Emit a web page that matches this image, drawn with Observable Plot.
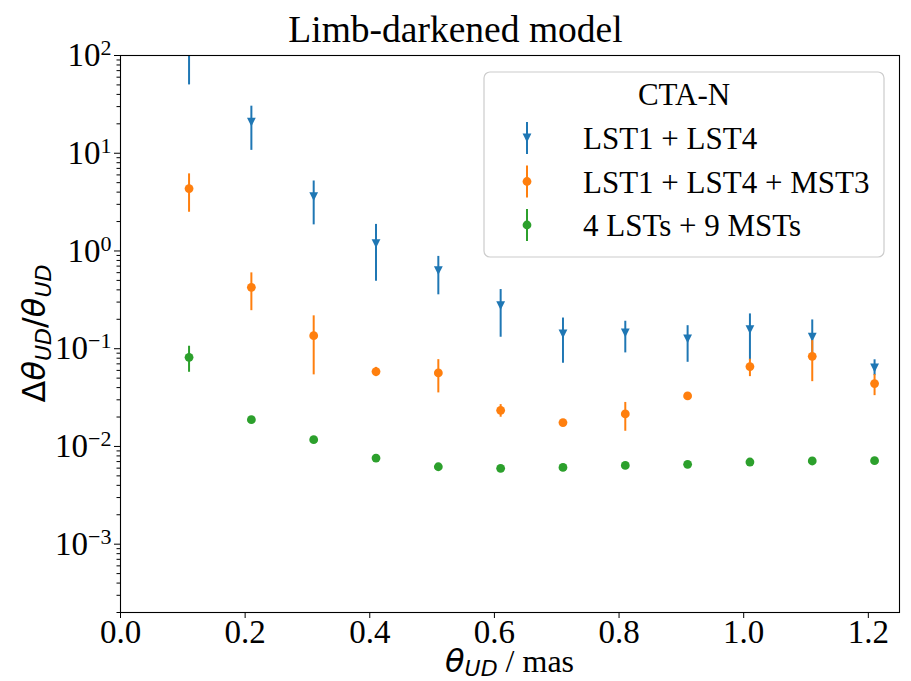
<!DOCTYPE html>
<html><head><meta charset="utf-8">
<script src="https://cdn.jsdelivr.net/npm/d3@7"></script>
<script src="https://cdn.jsdelivr.net/npm/@observablehq/plot@0.6"></script>
<style>
body{margin:0;background:#fff;}
#wrap{width:911px;}
#title{font-family:"Liberation Serif",serif;font-size:37.5px;text-align:center;height:40px;box-sizing:border-box;padding-top:12px;line-height:36px;color:#000;white-space:nowrap;}
</style></head><body>
<div id="wrap"><div id="title">Limb-darkened model</div><div id="chart"></div></div>
<script>
// ---- data ----
const thetaUD = [0.11, 0.21, 0.31, 0.41, 0.51, 0.61, 0.71, 0.81, 0.91, 1.01, 1.11, 1.21];
const seriesNames = ["LST1 + LST4", "LST1 + LST4 + MST3", "4 LSTs + 9 MSTs"];
const legendTitle = "CTA-N";

const lst2Val = [160, 20.8, 3.6, 1.19, 0.63, 0.276, 0.142, 0.145, 0.126, 0.157, 0.131, 0.0635];
const lst2Lo  = [50, 10.7, 1.85, 0.49, 0.356, 0.131, 0.071, 0.0906, 0.0726, 0.0755, 0.077, 0.053];
const lst2Hi  = [270, 30.3, 5.2, 1.87, 0.88, 0.403, 0.206, 0.191, 0.172, 0.227, 0.197, 0.077];

const mst3Val = [4.35, 0.425, 0.136, 0.0583, 0.0565, 0.0234, 0.01755, 0.0215, 0.0329, 0.0656, 0.0836, 0.044];
const mst3Lo  = [2.49, 0.245, 0.054, 0.0518, 0.0353, 0.0199, 0.0168, 0.0143, 0.0318, 0.0518, 0.046, 0.0331];
const mst3Hi  = [6.15, 0.597, 0.217, 0.0644, 0.0773, 0.0268, 0.0183, 0.0282, 0.034, 0.0781, 0.121, 0.0543];

const fullVal = [0.0817, 0.0188, 0.01174, 0.0076, 0.0062, 0.00597, 0.0061, 0.0064, 0.00657, 0.00693, 0.0071, 0.00716];
const fullLo  = [0.0574, 0.0183, 0.0115, 0.0074, 0.0061, 0.0059, 0.006, 0.0063, 0.0065, 0.0068, 0.007, 0.0071];
const fullHi  = [0.106, 0.0193, 0.012, 0.0078, 0.0063, 0.0061, 0.0062, 0.0065, 0.0067, 0.0071, 0.0072, 0.0073];

const xTicks = [0, 0.2, 0.4, 0.6, 0.8, 1.0, 1.2];
const yTicks = [1e-3, 1e-2, 1e-1, 1, 10, 100];

// ---- build table ----
const colors = ["#1f77b4", "#ff7f0e", "#2ca02c"];
const vals = [lst2Val, mst3Val, fullVal], los = [lst2Lo, mst3Lo, fullLo], his = [lst2Hi, mst3Hi, fullHi];
const rows = [];
seriesNames.forEach((s, i) => thetaUD.forEach((x, j) => rows.push({series: s, idx: i, x, y: vals[i][j], lo: los[i][j], hi: his[i][j]})));

const triDown = {draw(ctx, size) { const r = Math.sqrt(size / Math.PI); ctx.moveTo(0, r); ctx.lineTo(-r, -r); ctx.lineTo(r, -r); ctx.closePath(); }};

const minorTicks = [];
for (let e = -4; e <= 1; e++) for (let k = 2; k <= 9; k++) { const v = k * Math.pow(10, e); if (v >= 2e-4 && v <= 100) minorTicks.push(v); }

const marks = [];
seriesNames.forEach((s, i) => {
  const data = rows.filter(d => d.idx === i);
  marks.push(Plot.ruleX(data, {x: "x", y1: "lo", y2: "hi", stroke: colors[i], strokeWidth: 2, clip: true}));
  marks.push(Plot.dot(data, {x: "x", y: "y", symbol: i === 0 ? triDown : "circle", r: 4.4, fill: colors[i], stroke: "none", clip: true}));
});

const svg = Plot.plot({
  width: 911, height: 641,
  marginTop: 15, marginBottom: 69, marginLeft: 120, marginRight: 12,
  style: {fontFamily: "Liberation Serif, serif", color: "#000", background: "#fff", overflow: "visible"},
  x: {domain: [0, 1.25]},
  y: {type: "log", domain: [2e-4, 100]},
  marks: [
    ...marks,
    Plot.frame({stroke: "#000", strokeWidth: 1.1}),
    Plot.axisX({ticks: xTicks, tickFormat: d3.format(".1f"), tickSize: 6, tickPadding: 1, fontSize: 33, label: null}),
    Plot.axisY({ticks: minorTicks, tickSize: 3.5, tickFormat: () => "", label: null}),
    Plot.axisY({ticks: yTicks, tickSize: 6, tickPadding: 3, fontSize: 33, tickFormat: d => String(Math.round(Math.log10(d))), label: null})
  ]
});
document.getElementById("chart").appendChild(svg);

const s = d3.select(svg);
// superscript tick labels
s.selectAll('g[aria-label="y-axis tick label"] text').each(function() {
  const t = this.textContent;
  if (!t) return;
  const e = t.replace("-", "\u2212");
  this.textContent = "10";
  d3.select(this).append("tspan").attr("dy", "-11").attr("font-size", "22px").text(e);
});

// y label
const yl = s.append("text").attr("transform", "translate(45,293.5) rotate(-90)")
  .attr("text-anchor", "middle").attr("font-family", "DejaVu Sans").attr("font-size", "32px").attr("fill", "#000");
yl.append("tspan").text("\u0394");
yl.append("tspan").attr("font-style", "italic").text("\u03b8");
yl.append("tspan").attr("font-style", "italic").attr("font-size", "22px").attr("dy", "6").text("UD");
yl.append("tspan").attr("dy", "-6").text("/");
yl.append("tspan").attr("font-style", "italic").text("\u03b8");
yl.append("tspan").attr("font-style", "italic").attr("font-size", "22px").attr("dy", "6").text("UD");

// x label
const xl = s.append("text").attr("x", 509.5).attr("y", 632).attr("text-anchor", "middle").attr("font-size", "32px").attr("fill", "#000");
xl.append("tspan").attr("font-family", "DejaVu Sans").attr("font-style", "italic").text("\u03b8");
xl.append("tspan").attr("font-family", "DejaVu Sans").attr("font-style", "italic").attr("font-size", "22px").attr("dy", "4").text("UD");
xl.append("tspan").attr("font-family", "Liberation Serif").attr("dy", "-4").text(" / mas");

// legend
const lg = s.append("g").attr("font-family", "Liberation Serif").attr("font-size", "31px").attr("fill", "#000");
lg.append("rect").attr("x", 484).attr("y", 32).attr("width", 400).attr("height", 185).attr("rx", 6)
  .attr("fill", "#fff").attr("fill-opacity", 0.8).attr("stroke", "#cccccc").attr("stroke-width", 1.2);
lg.append("text").attr("x", 684).attr("y", 65).attr("text-anchor", "middle").text(legendTitle);
seriesNames.forEach((name, i) => {
  const by = 109 + i * 43.5;
  const cy = by - 11;
  lg.append("line").attr("x1", 527).attr("x2", 527).attr("y1", cy - 16).attr("y2", cy + 16).attr("stroke", colors[i]).attr("stroke-width", 2);
  if (i === 0) {
    const r = 4.4;
    lg.append("path").attr("d", `M527,${cy + r}L${527 - r},${cy - r}L${527 + r},${cy - r}Z`).attr("fill", colors[i]);
  } else {
    lg.append("circle").attr("cx", 527).attr("cy", cy).attr("r", 4.4).attr("fill", colors[i]);
  }
  lg.append("text").attr("x", 583).attr("y", by).attr("text-anchor", "start").text(name);
});
</script>
</body></html>
